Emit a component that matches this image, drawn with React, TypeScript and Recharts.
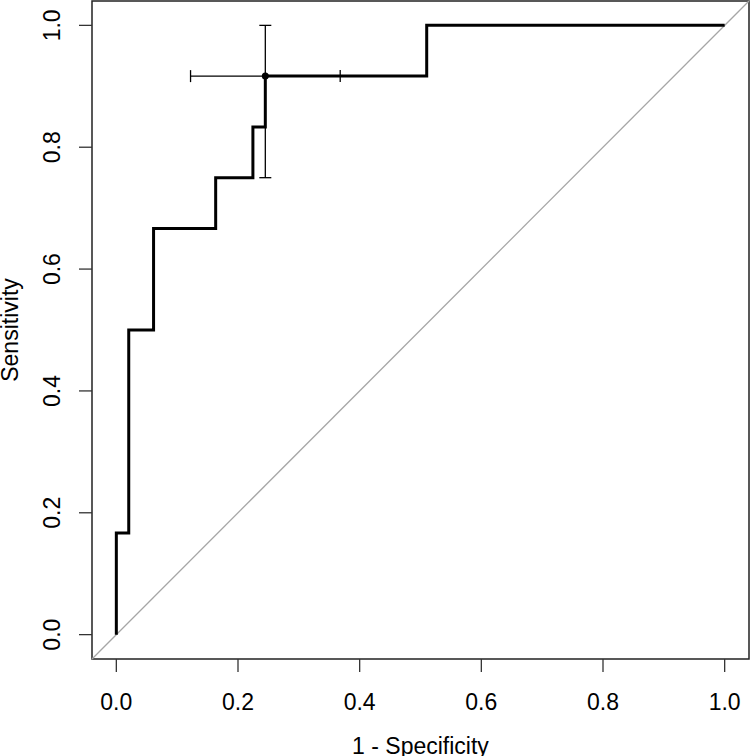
import React from 'react';
import {
  ComposedChart, Line, Scatter, XAxis, YAxis, ReferenceLine, ReferenceArea, ErrorBar,
} from 'recharts';

// ROC curve corner points (1 - specificity, sensitivity)
const fprValues = [0, 0, 0.0204, 0.0204, 0.0612, 0.0612, 0.1633, 0.1633, 0.2245, 0.2245, 0.2449, 0.2449, 0.5102, 0.5102, 1.0];
const tprValues = [0, 0.1667, 0.1667, 0.5, 0.5, 0.6667, 0.6667, 0.75, 0.75, 0.8333, 0.8333, 0.9167, 0.9167, 1.0, 1.0];

// best threshold point with confidence intervals
const bestFpr = 0.2449;
const bestTpr = 0.9167;
const fprCI = [0.122, 0.368];
const tprCI = [0.75, 1.0];

const xTicks = [0, 0.2, 0.4, 0.6, 0.8, 1.0];
const yTicks = [0, 0.2, 0.4, 0.6, 0.8, 1.0];
const axisDomain = [-0.04, 1.04];
const xLabel = '1 - Specificity';
const yLabel = 'Sensitivity';

const rocData = fprValues.map((f, i) => ({ fpr: f, tpr: tprValues[i] }));
const bestData = [{
  fpr: bestFpr,
  tpr: bestTpr,
  ex: [bestFpr - fprCI[0], fprCI[1] - bestFpr],
  ey: [bestTpr - tprCI[0], tprCI[1] - bestTpr],
}];

const FONT = '"Liberation Sans", Arial, sans-serif';
const FS = 23;

const XTick = (props: any) => {
  const { x, y, payload } = props;
  return (
    <text x={x} y={y + 38} textAnchor="middle" fontFamily={FONT} fontSize={FS} fill="#000">
      {Number(payload.value).toFixed(1)}
    </text>
  );
};

const YTick = (props: any) => {
  const { x, y, payload } = props;
  const bx = x - 19;
  return (
    <text x={bx} y={y} textAnchor="middle" transform={`rotate(-90, ${bx}, ${y})`} fontFamily={FONT} fontSize={FS} fill="#000">
      {Number(payload.value).toFixed(1)}
    </text>
  );
};

const XLabel = (props: any) => {
  const vb = props.viewBox;
  return (
    <text x={vb.x + vb.width / 2} y={vb.y + 95} textAnchor="middle" fontFamily={FONT} fontSize={FS} fill="#000">
      {xLabel}
    </text>
  );
};

const YLabel = (props: any) => {
  const vb = props.viewBox;
  const cx = 18;
  const cy = vb.y + vb.height / 2;
  return (
    <text x={cx} y={cy} textAnchor="middle" transform={`rotate(-90, ${cx}, ${cy})`} fontFamily={FONT} fontSize={FS} fill="#000">
      {yLabel}
    </text>
  );
};

const Dot = (p: any) => <circle cx={p.cx} cy={p.cy} r={3.5} fill="#000" />;

export default function App() {
  return (
    <div style={{ position: 'absolute', left: 0, top: 0, background: '#fff' }}>
      <ComposedChart width={750} height={756} data={rocData} margin={{ top: 1, right: 1, left: 0, bottom: 0 }}>
        <XAxis
          type="number"
          dataKey="fpr"
          domain={axisDomain}
          ticks={xTicks}
          allowDataOverflow
          axisLine={false}
          tickLine={{ stroke: '#333', strokeWidth: 1.3 }}
          tickSize={13}
          tickMargin={0}
          tick={<XTick />}
          height={97}
          label={<XLabel />}
        />
        <YAxis
          type="number"
          dataKey="tpr"
          domain={axisDomain}
          ticks={yTicks}
          allowDataOverflow
          axisLine={false}
          tickLine={{ stroke: '#333', strokeWidth: 1.3 }}
          tickSize={13}
          tickMargin={0}
          tick={<YTick />}
          width={92}
          label={<YLabel />}
        />
        <ReferenceArea
          x1={axisDomain[0]} x2={axisDomain[1]} y1={axisDomain[0]} y2={axisDomain[1]}
          fill="none" fillOpacity={0} stroke="#222" strokeWidth={1.5} strokeOpacity={1}
        />
        <ReferenceLine
          segment={[{ x: axisDomain[0], y: axisDomain[0] }, { x: axisDomain[1], y: axisDomain[1] }]}
          stroke="#a6a6a6" strokeWidth={1.3}
        />
        <Line
          type="linear"
          dataKey="tpr"
          stroke="#000"
          strokeWidth={3}
          dot={false}
          activeDot={false}
          isAnimationActive={false}
        />
        <Scatter data={bestData} dataKey="tpr" shape={<Dot />} isAnimationActive={false}>
          <ErrorBar dataKey="ex" direction="x" width={6} stroke="#000" strokeWidth={1.3} />
          <ErrorBar dataKey="ey" direction="y" width={6} stroke="#000" strokeWidth={1.3} />
        </Scatter>
      </ComposedChart>
    </div>
  );
}
